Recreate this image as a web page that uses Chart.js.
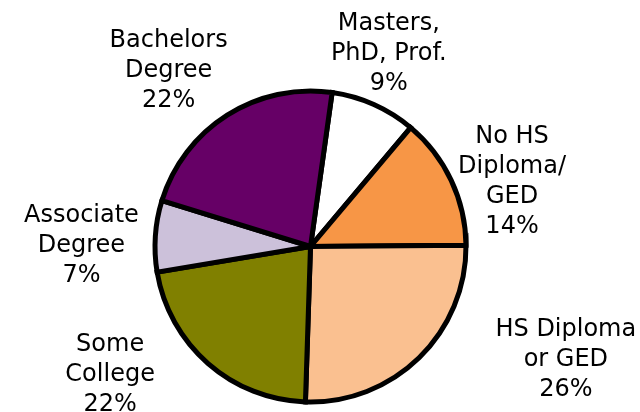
<!DOCTYPE html>
<html>
<head>
<meta charset="utf-8">
<script src="https://cdn.jsdelivr.net/npm/chart.js@4/dist/chart.umd.min.js"></script>
<style>
  html, body { margin: 0; padding: 0; background: #ffffff; }
  #wrap { width: 640px; height: 412px; }
</style>
</head>
<body>
<div id="wrap"><canvas id="myChart" width="640" height="412"></canvas></div>
<script>
// DATA ----------------------------------------------------------------START
var categories = [
  ['Masters,', 'PhD, Prof.'],
  ['No HS', 'Diploma/', 'GED'],
  ['HS Diploma', 'or GED'],
  ['Some', 'College'],
  ['Associate', 'Degree'],
  ['Bachelors', 'Degree']
];
var shares = [8.9, 13.7, 25.6, 21.8, 7.4, 22.4];
var sliceColors = ['#FFFFFF', '#F79646', '#FAC090', '#808000', '#CCC1DA', '#660066'];
// DATA ----------------------------------------------------------------END

// label nudges from the point just outside each slice (px)
var labelNudge = [[-3, -13], [21, 18], [116, -32], [-69, -24], [-30, 10], [-35, -10]];

var FONT_SIZE = 24;
var LINE_H = 30;

// draw the outside labels (category + percent) next to each slice
var outsideLabels = {
  id: 'outsideLabels',
  afterDraw: function (chart) {
    var ctx = chart.ctx;
    var arcs = chart.getDatasetMeta(0).data;
    var values = chart.data.datasets[0].data;
    var total = values.reduce(function (a, b) { return a + b; }, 0);
    ctx.save();
    ctx.fillStyle = '#000000';
    ctx.font = FONT_SIZE + 'px "DejaVu Sans"';
    ctx.textAlign = 'center';
    ctx.textBaseline = 'alphabetic';
    var capH = FONT_SIZE * 0.73;
    arcs.forEach(function (arc, i) {
      var p = arc.getProps(['x', 'y', 'startAngle', 'endAngle', 'outerRadius'], true);
      var mid = (p.startAngle + p.endAngle) / 2;
      var d = p.outerRadius + 44;
      var cx = p.x + Math.cos(mid) * d + labelNudge[i][0];
      var cy = p.y + Math.sin(mid) * d + labelNudge[i][1];
      var lines = chart.data.labels[i].concat([Math.round(values[i] / total * 100) + '%']);
      var top = cy - (lines.length - 1) / 2 * LINE_H + capH / 2;
      lines.forEach(function (t, k) {
        ctx.fillText(t, cx, top + k * LINE_H);
      });
    });
    ctx.restore();
  }
};

var ctx = document.getElementById('myChart').getContext('2d');
var myChart = new Chart(ctx, {
  type: 'pie',
  data: {
    labels: categories,
    datasets: [{
      data: shares,
      backgroundColor: sliceColors,
      borderColor: '#000000',
      borderWidth: 5,
      borderJoinStyle: 'miter'
    }]
  },
  options: {
    responsive: false,
    animation: false,
    devicePixelRatio: 1,
    rotation: 8,
    layout: {
      padding: { top: 88.5, bottom: 7.5, left: 0, right: 19 }
    },
    plugins: {
      legend: { display: false },
      tooltip: { enabled: false }
    }
  },
  plugins: [outsideLabels]
});
</script>
</body>
</html>
